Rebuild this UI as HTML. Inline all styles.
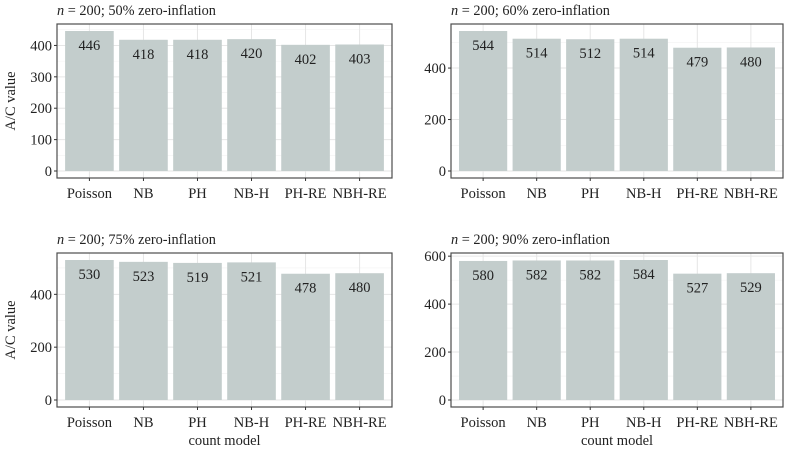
<!DOCTYPE html>
<html><head><meta charset="utf-8"><style>
body{margin:0;background:#fff;}
svg text{font-family:"Liberation Serif",serif;fill:#222;}
</style></head><body>
<svg id="chart" width="787" height="450" xmlns="http://www.w3.org/2000/svg"></svg>
<script>
const categories = ["Poisson","NB","PH","NB-H","PH-RE","NBH-RE"];
const titles = ["50% zero-inflation","60% zero-inflation","75% zero-inflation","90% zero-inflation"];
const values50 = [446,418,418,420,402,403];
const values60 = [544,514,512,514,479,480];
const values75 = [530,523,519,521,478,480];
const values90 = [580,582,582,584,527,529];
const ticks50 = [0,100,200,300,400];
const ticks60 = [0,200,400];
const ticks75 = [0,200,400];
const ticks90 = [0,200,400,600];
const minor50 = [50,150,250,350,450];
const minor60 = [100,300,500];
const minor75 = [100,300,500];
const minor90 = [100,300,500];

const NS="http://www.w3.org/2000/svg";
const svg=document.getElementById('chart');
function mk(tag,attrs,parent){const e=document.createElementNS(NS,tag);for(const k in attrs)e.setAttribute(k,attrs[k]);(parent||svg).appendChild(e);return e;}

const panels=[
 {x0:57,x1:392,y0:24,y1:178,vals:values50,ticks:ticks50,minor:minor50,title:titles[0],ylab:true,xlab:false},
 {x0:451,x1:783,y0:24,y1:178,vals:values60,ticks:ticks60,minor:minor60,title:titles[1],ylab:false,xlab:false},
 {x0:57,x1:392,y0:253,y1:407,vals:values75,ticks:ticks75,minor:minor75,title:titles[2],ylab:true,xlab:true},
 {x0:451,x1:783,y0:253,y1:407,vals:values90,ticks:ticks90,minor:minor90,title:titles[3],ylab:false,xlab:true}
];

panels.forEach((p,pi)=>{
  const g=mk('g',{});
  
  
  const max=Math.max(...p.vals);
  const lo=-0.05*max, hi=1.05*max;
  const yS=v=>p.y1-(v-lo)/(hi-lo)*(p.y1-p.y0);
  const n=categories.length;
  const band=(p.x1-p.x0)/(n-1+1.2);
  const xS=i=>p.x0+band*(0.6+i);
  p.minor.forEach(v=>{ if(yS(v)>p.y0){const l=mk('line',{x1:p.x0,x2:p.x1,y1:yS(v),y2:yS(v),stroke:'#f2f2f2','stroke-width':0.6},g);
    }});
  p.ticks.forEach(v=>{const l=mk('line',{x1:p.x0,x2:p.x1,y1:yS(v),y2:yS(v),stroke:'#e6e6e6','stroke-width':1},g);
    });
  categories.forEach((c,i)=>{const l=mk('line',{x1:xS(i),x2:xS(i),y1:p.y0,y2:p.y1,stroke:'#e6e6e6','stroke-width':1},g);
    });
  p.vals.forEach((v,i)=>{
    const bw=band*0.9;
    const r=mk('rect',{x:xS(i)-bw/2,y:yS(v),width:bw,height:yS(0)-yS(v),fill:'#c3cdcc'},g);
    
    
    const t=mk('text',{x:xS(i),y:yS(v)+19,'text-anchor':'middle','font-size':'14.5'},g);
    t.textContent=v;
    
    
  });
  const b=mk('rect',{x:p.x0,y:p.y0,width:p.x1-p.x0,height:p.y1-p.y0,fill:'none',stroke:'#4d4d4d','stroke-width':1.2},g);
  
  p.ticks.forEach(v=>{
    const l=mk('line',{x1:p.x0-3,x2:p.x0,y1:yS(v),y2:yS(v),stroke:'#333','stroke-width':1},g);
    
    const t=mk('text',{x:p.x0-5,y:yS(v)+5,'text-anchor':'end','font-size':'14.5'},g);
    t.textContent=v;
  });
  categories.forEach((c,i)=>{
    const l=mk('line',{x1:xS(i),x2:xS(i),y1:p.y1,y2:p.y1+3,stroke:'#333','stroke-width':1},g);
    
    const t=mk('text',{x:xS(i),y:p.y1+20,'text-anchor':'middle','font-size':'14.5'},g);
    t.textContent=c;
  });
  const tt=mk('text',{x:p.x0,y:p.y0-9,'font-size':'14.3'},g);
  tt.innerHTML='<tspan font-style="italic">n</tspan> = 200; '+p.title;
  
  if(p.ylab){const t=mk('text',{x:0,y:0,'text-anchor':'middle','font-size':'14.5',transform:`translate(15,${(p.y0+p.y1)/2}) rotate(-90)`},g);
    t.textContent='A/C value';}
  if(p.xlab){const t=mk('text',{x:(p.x0+p.x1)/2,y:445,'text-anchor':'middle','font-size':'14.5'},g);
    t.textContent='count model';}
});
</script>
</body></html>
